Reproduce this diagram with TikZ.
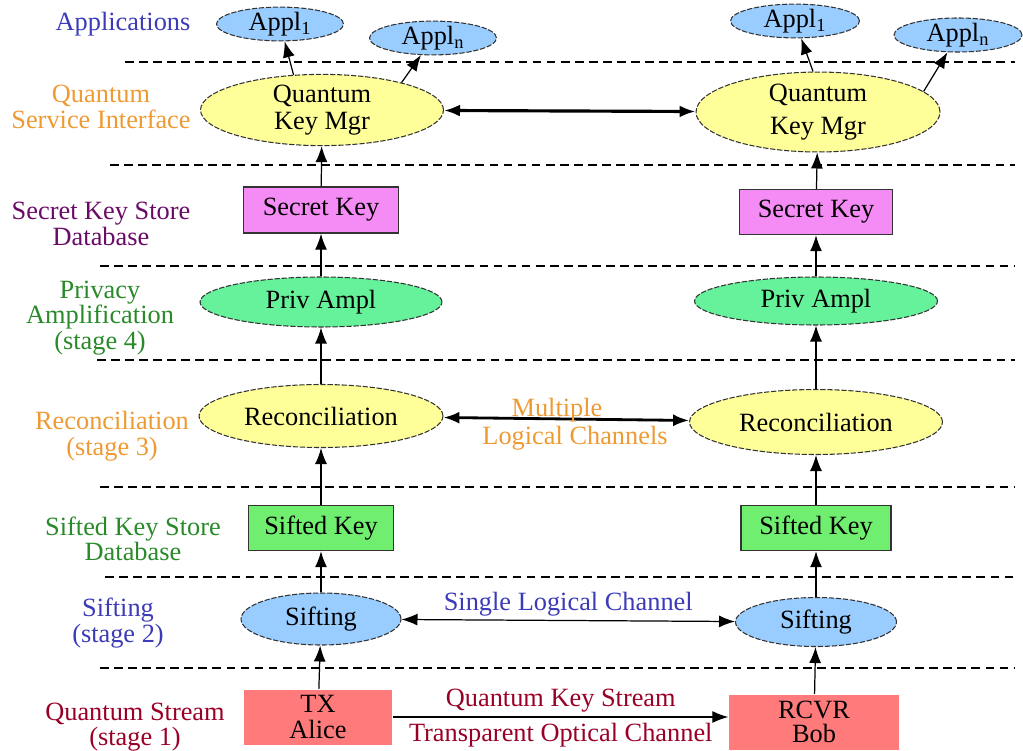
\documentclass[tikz,border=0pt]{standalone}
\usepackage{fontspec}
\setmainfont{Liberation Serif}
\usetikzlibrary{shapes.geometric, arrows.meta, positioning}

\definecolor{txtblue}{HTML}{3B3BB8}
\definecolor{txtorange}{HTML}{EE9A33}
\definecolor{txtpurple}{HTML}{6A0A66}
\definecolor{txtgreen}{HTML}{2A8A2A}
\definecolor{txtred}{HTML}{990025}
\definecolor{fillblue}{HTML}{99CCFF}
\definecolor{fillyellow}{HTML}{FFFF99}
\definecolor{fillgreen}{HTML}{66F29A}
\definecolor{fillpink}{HTML}{F58CF5}
\definecolor{fillsift}{HTML}{70EE70}
\definecolor{fillred}{HTML}{FF7B7B}

\begin{document}
\begin{tikzpicture}[x=0.02cm, y=-0.02cm, font=\fontsize{15}{17}\selectfont,
    >={Latex[length=3.2mm,width=2.4mm]}, line width=0.7pt,
    oval/.style={ellipse, draw=black!80, dash pattern=on 3pt off 1pt, line width=0.6pt, inner sep=0pt},
    box/.style={rectangle, draw=black!80, line width=0.8pt, inner sep=0pt},
    layer/.style={align=center, inner sep=0pt, font=\fontsize{15}{14.6}\selectfont},
    sep/.style={line width=0.6pt, dash pattern=on 5pt off 3pt}]
    \useasboundingbox (0,0) rectangle (1023,750);

    % layer borders
    \foreach \yy/\xs in {62/125, 165/110, 266/100, 360/97, 487/100, 577/105, 668/100}
        \draw[sep] (\xs,\yy) -- (1015,\yy);

    % layer names
    \node[layer, text=txtblue] (lapp) at (123,24) {Applications};
    \node[layer, text=txtorange] (lqsi) at (101,107) {Quantum\\Service Interface};
    \node[layer, text=txtpurple] (lsks) at (101,224) {Secret Key Store\\Database};
    \node[layer, text=txtgreen] (lpa) at (100,318) {Privacy\\Amplification\\(stage 4)};
    \node[layer, text=txtorange] (lrec) at (112,436) {Reconciliation\\(stage 3)};
    \node[layer, text=txtgreen] (lsifk) at (133,539) {Sifted Key Store\\Database};
    \node[layer, text=txtblue] (lsift) at (118,623) {Sifting\\(stage 2)};
    \node[layer, text=txtred] (lqs) at (135,727) {Quantum Stream\\(stage 1)};

    % Alice side
    \node[oval, fill=fillblue, minimum width=2.54cm, minimum height=0.56cm] (applA1) at (280,24) {Appl\textsubscript{1}};
    \node[oval, fill=fillblue, minimum width=2.54cm, minimum height=0.6cm] (applAn) at (433,38) {Appl\textsubscript{n}};
    \node[oval, fill=fillyellow, align=center, minimum width=4.86cm, minimum height=1.2cm, font=\fontsize{15}{15.5}\selectfont] (qkmA) at (322,110) {Quantum\\Key Mgr};
    \node[box, fill=fillpink, minimum width=3.1cm, minimum height=0.92cm] (skA) at (321,210) {Secret Key};
    \node[oval, fill=fillgreen, minimum width=4.84cm, minimum height=1.0cm] (paA) at (321,302) {Priv Ampl};
    \node[oval, fill=fillyellow, minimum width=4.88cm, minimum height=1.26cm] (recA) at (321,416) {Reconciliation};
    \node[box, fill=fillsift, minimum width=2.9cm, minimum height=0.9cm] (sifkA) at (321,528) {Sifted Key};
    \node[oval, fill=fillblue, minimum width=3.2cm, minimum height=1.04cm] (siftA) at (321,619) {Sifting};
    \node[box, draw=none, fill=fillred, align=center, minimum width=2.98cm, minimum height=1.1cm, font=\fontsize{15}{15}\selectfont] (tx) at (318,717) {TX\\Alice};

    % Bob side
    \node[oval, fill=fillblue, minimum width=2.58cm, minimum height=0.62cm] (applB1) at (795,21) {Appl\textsubscript{1}};
    \node[oval, fill=fillblue, minimum width=2.56cm, minimum height=0.68cm] (applBn) at (958,35) {Appl\textsubscript{n}};
    \node[oval, fill=fillyellow, align=center, minimum width=4.88cm, minimum height=1.3cm, font=\fontsize{15}{19}\selectfont] (qkmB) at (818,112) {Quantum\\Key Mgr};
    \node[box, fill=fillpink, minimum width=3.06cm, minimum height=0.9cm] (skB) at (816,212) {Secret Key};
    \node[oval, fill=fillgreen, minimum width=4.86cm, minimum height=0.96cm] (paB) at (816,301) {Priv Ampl};
    \node[oval, fill=fillyellow, minimum width=5.06cm, minimum height=1.3cm] (recB) at (816,422) {Reconciliation};
    \node[box, fill=fillsift, minimum width=3.0cm, minimum height=0.9cm] (sifkB) at (816,528) {Sifted Key};
    \node[oval, fill=fillblue, minimum width=3.22cm, minimum height=0.98cm] (siftB) at (816,622) {Sifting};
    \node[box, draw=none, fill=fillred, align=center, minimum width=3.4cm, minimum height=1.1cm, font=\fontsize{15}{14}\selectfont] (rx) at (814,722) {RCVR\\Bob};

    % upward flow
    \foreach \lo/\hi in {tx/siftA, siftA/sifkA, sifkA/recA, recA/paA, paA/skA, skA/qkmA,
                         rx/siftB, siftB/sifkB, sifkB/recB, recB/paB, paB/skB, skB/qkmB}
        \draw[->] (\lo) -- (\hi);
    \draw[->] (qkmA.129) -- (applA1);
    \draw[->] (qkmA.19) -- (applAn);
    \draw[->] (qkmB.97) -- (applB1);
    \draw[->] (qkmB.11) -- (applBn);

    % channels between the sides
    \draw[<->, line width=1.8pt] (qkmA) -- (qkmB);
    \draw[<->, line width=1.6pt] (recA) -- (recB);
    \node[text=txtorange] (lmult) at (557,410) {Multiple};
    \node[text=txtorange] (llog) at (575,438) {Logical Channels};
    \draw[<->] (siftA) -- node[above=-1pt, text=txtblue] {Single Logical Channel} (siftB);
    \draw[->] (tx.east) -- node[above=-1pt, text=txtred] {Quantum Key Stream}
        node[below=0pt, text=txtred] {Transparent Optical Channel} (tx.east -| rx.west);
\end{tikzpicture}
\end{document}
